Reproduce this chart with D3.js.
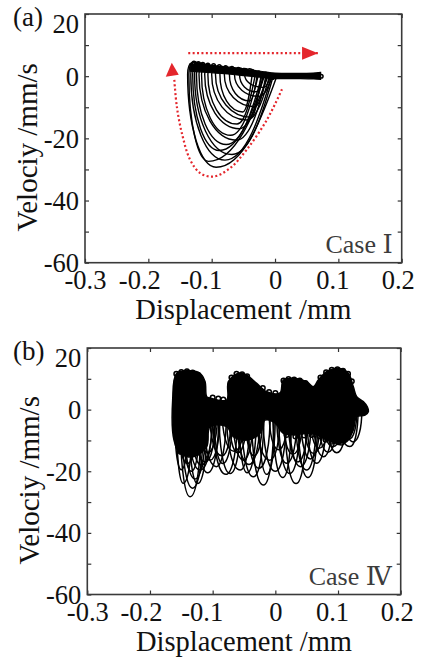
<!DOCTYPE html>
<html>
<head>
<meta charset="utf-8">
<script src="https://cdn.jsdelivr.net/npm/d3@7"></script>
<style>
  html, body { margin: 0; padding: 0; background: #fff; }
  svg { display: block; }
  svg text { font-family: "Liberation Serif", "Times New Roman", "DejaVu Serif", serif; }
</style>
</head>
<body>
<svg id="chart" width="422" height="660"></svg>
<script>
// ---------- axes ----------
const xTicks = [-0.3, -0.2, -0.1, 0, 0.1, 0.2];
const xTickLabels = ["-0.3", "-0.2", "-0.1", "0", "0.1", "0.2"];
const yTicks = [20, 0, -20, -40, -60];
const yTickLabels = ["20", "0", "-20", "-40", "-60"];
const yMinorTicks = [10, -10, -30, -50];

// ---------- (a) Case I : decaying swings (x at top-left, bottom x, bottom v, x where v returns to 0, top v) ----------
const loopLeftA   = [-0.138, -0.136, -0.133, -0.130, -0.127, -0.124, -0.120, -0.116, -0.111, -0.106, -0.100, -0.094, -0.087, -0.080, -0.072, -0.064, -0.056, -0.048];
const loopMinXA   = [-0.093, -0.105, -0.079, -0.088, -0.068, -0.077, -0.061, -0.070, -0.056, -0.060, -0.045, -0.038, -0.051, -0.032, -0.040, -0.025, -0.030, -0.018];
const loopMinVA   = [-29.3, -27.4, -27.0, -23.9, -25.2, -22.0, -20.6, -19.0, -16.9, -15.4, -14.1, -13.2, -11.5, -9.8, -8.0, -6.5, -5.0, -3.6];
const loopRightA  = [0.004, -0.010, -0.004, -0.016, -0.002, -0.020, -0.012, -0.026, -0.018, -0.031, -0.008, -0.022, -0.036, -0.014, -0.028, -0.004, -0.018, -0.006];
const loopTopA    = [4.3, 4.4, 4.1, 4.0, 3.9, 3.7, 3.6, 3.5, 3.3, 3.2, 3.0, 2.9, 2.7, 2.6, 2.4, 2.3, 2.1, 2.0];

// creeping band along v ~ 0
const bandXA     = [-0.134, -0.120, -0.100, -0.080, -0.060, -0.040, -0.020, 0.000, 0.020, 0.040, 0.060, 0.072];
const bandUpperA = [3.9, 3.6, 3.2, 2.8, 2.4, 2.0, 1.5, 1.0, 0.9, 0.9, 1.0, 1.2];
const bandLowerA = [1.6, 1.4, 1.1, 0.8, 0.4, 0.0, -0.4, -0.8, -0.8, -0.8, -0.9, -1.0];
const bumpXA = [-0.128, -0.121, -0.114, -0.106, -0.097, -0.088, -0.078, -0.068, -0.058, -0.047, -0.036, -0.026, -0.015, -0.004, 0.067, 0.073];
const bumpVA = [4.2, 4.1, 3.8, 3.6, 3.4, 3.1, 2.8, 2.5, 2.2, 1.8, 1.5, 1.1, 0.7, -0.4, 0.3, 0.0];

// trajectory direction guides (red)
const arrowTopX = [-0.137, 0.068];
const arrowTopV = [7.4, 7.4];
const arrowCurveX = [0.011, -0.013, -0.045, -0.071, -0.097, -0.118, -0.134, -0.147, -0.155, -0.159];
const arrowCurveV = [-4.2, -14.1, -23.7, -29.6, -32.3, -31.2, -26.9, -18.4, -9.8, -1.2];
const arrowCurveTip = [-0.163, 4.3];

// ---------- (b) Case IV : dense multi-centre orbit ----------
const blobXB = [-0.1638, -0.1574, -0.1362, -0.1202, -0.1122, -0.1095, -0.1042, -0.0776, -0.0750, -0.0591, -0.0457, -0.0297, -0.0138, 0.0074, 0.0127, 0.0287, 0.0500, 0.0606, 0.0685, 0.0819, 0.1004, 0.1164, 0.1244, 0.1298, 0.1403, 0.1467, 0.1483, 0.1430, 0.1298, 0.1244, 0.1138, 0.0979, 0.0819, 0.0660, 0.0500, 0.0287, 0.0127, -0.0005, -0.0165, -0.0245, -0.0457, -0.0671, -0.0776, -0.1042, -0.1095, -0.1309, -0.1521, -0.1617];
const blobVB = [3.1, 11.8, 12.6, 11.8, 9.1, 4.2, 3.8, 3.1, 9.1, 11.8, 11.2, 8.5, 5.8, 5.4, 9.6, 10.2, 9.1, 7.4, 9.6, 12.3, 13.4, 11.8, 7.4, 4.2, 2.6, 0.9, -0.7, -1.8, -2.3, -6.6, -10.4, -10.9, -9.9, -8.2, -7.7, -8.2, -7.7, -4.3, -3.4, -7.7, -9.9, -8.8, -5.5, -5.5, -12.0, -15.3, -14.2, -9.9];

const loopLeftB  = [-0.152, -0.158, -0.161, -0.140, -0.146, -0.130, -0.156, -0.115, -0.120, -0.105, -0.090, -0.078, -0.054, -0.038, -0.068, -0.085, -0.030, -0.045, 0.005, 0.015, 0.002, 0.032, 0.050, 0.060, 0.045, 0.075, 0.100, 0.012, -0.010, 0.088, -0.125, -0.100, -0.150, -0.135, -0.062, -0.020, 0.022, 0.040, 0.068, 0.110,
                    -0.162, -0.148, -0.138, -0.122, -0.098, -0.074, -0.058, -0.048, -0.026, -0.004, 0.020, 0.036, 0.055, 0.082, 0.105];
const loopMinXB  = [-0.136, -0.147, -0.150, -0.120, -0.128, -0.112, -0.140, -0.094, -0.104, -0.085, -0.072, -0.056, -0.035, -0.019, -0.051, -0.066, -0.009, -0.026, 0.023, 0.033, 0.018, 0.050, 0.066, 0.077, 0.061, 0.092, 0.119, 0.028, 0.005, 0.105, -0.108, -0.079, -0.132, -0.118, -0.042, 0.000, 0.040, 0.056, 0.084, 0.124,
                    -0.152, -0.134, -0.124, -0.108, -0.084, -0.060, -0.045, -0.034, -0.014, 0.012, 0.036, 0.052, 0.070, 0.098, 0.118];
const loopMinVB  = [-28.3, -23.9, -19.5, -19.6, -22.5, -17.0, -17.5, -18.5, -16.4, -15.0, -20.7, -19.6, -21.8, -24.5, -16.4, -13.5, -16.4, -19.0, -20.7, -24.0, -17.4, -19.6, -17.4, -15.3, -14.2, -12.0, -12.0, -14.5, -13.0, -11.5, -20.5, -21.0, -25.5, -18.0, -17.8, -20.0, -18.5, -16.0, -13.8, -10.5,
                    -14.5, -20.0, -24.0, -14.0, -17.5, -14.0, -20.5, -15.0, -21.0, -22.0, -17.0, -22.0, -12.5, -14.0, -9.5];
const loopRightB = [-0.118, -0.132, -0.138, -0.100, -0.110, -0.095, -0.125, -0.078, -0.088, -0.070, -0.055, -0.040, -0.018, -0.002, -0.035, -0.048, 0.008, -0.008, 0.040, 0.050, 0.035, 0.066, 0.082, 0.092, 0.078, 0.108, 0.132, 0.044, 0.020, 0.122, -0.090, -0.060, -0.114, -0.100, -0.024, 0.018, 0.058, 0.072, 0.100, 0.138,
                    -0.142, -0.120, -0.108, -0.092, -0.068, -0.045, -0.030, -0.020, 0.000, 0.026, 0.052, 0.068, 0.086, 0.114, 0.130];

const bumpXB = [-0.158, -0.150, -0.141, -0.132, -0.123, -0.100, -0.091, -0.083, -0.070, -0.062, -0.053, -0.045, -0.020, -0.010, 0.000, 0.013, 0.021, 0.030, 0.039, 0.048, 0.072, 0.081, 0.090, 0.099, 0.108, 0.116, 0.122, 0.100, 0.090, 0.080, 0.070, 0.058, 0.046, 0.032, 0.018];
const bumpVB = [11.6, 12.2, 12.4, 12.0, 11.2, 3.9, 3.6, 3.3, 10.4, 11.6, 11.5, 10.8, 7.0, 5.7, 5.4, 9.4, 9.9, 9.8, 9.4, 8.6, 10.4, 12.1, 12.9, 13.1, 12.6, 11.6, 9.2, -10.6, -10.4, -9.8, -8.6, -8.2, -8.4, -8.7, -8.2];

// ---------- layout ----------
const svg = d3.select("#chart");
const ink = "#111";
const red = "#e4262c";

const panels = [
  { tag: "(a)", caseText: "Case \u2160", left: 85, right: 401.7, top: 14, bottom: 262.7 },
  { tag: "(b)", caseText: "Case \u2163", left: 87.3, right: 400.7, top: 348, bottom: 594.5 }
];
const labelNudge = [0, -9, -11, 0, -6, -4];

function frame(p, idx) {
  const x = d3.scaleLinear().domain([-0.3, 0.2]).range([p.left, p.right]);
  const y = d3.scaleLinear().domain([-60, 20]).range([p.bottom, p.top]);
  const g = svg.append("g");

  const clipId = "clip" + idx;
  svg.append("clipPath").attr("id", clipId)
    .append("rect").attr("x", p.left).attr("y", p.top)
    .attr("width", p.right - p.left).attr("height", p.bottom - p.top);
  const plot = g.append("g").attr("clip-path", `url(#${clipId})`);

  // ticks (inward on all four sides)
  const axB = g.append("g").attr("transform", `translate(0,${p.bottom})`)
    .call(d3.axisBottom(x).tickValues(xTicks).tickSizeInner(-4).tickSizeOuter(0)
      .tickFormat((d, i) => xTickLabels[i]));
  axB.selectAll("text")
    .attr("y", 26).attr("dy", 0)
    .attr("dx", (d, i) => labelNudge[i]);
  g.append("g").attr("transform", `translate(0,${p.top})`)
    .call(d3.axisTop(x).tickValues(xTicks).tickSizeInner(-4).tickSizeOuter(0).tickFormat(""));

  const allY = yTicks.concat(yMinorTicks);
  const axL = g.append("g").attr("transform", `translate(${p.left},0)`)
    .call(d3.axisLeft(y).tickValues(allY).tickSizeInner(-4).tickSizeOuter(0)
      .tickFormat(d => { const k = yTicks.indexOf(d); return k >= 0 ? yTickLabels[k] : ""; }));
  axL.selectAll("text")
    .attr("x", -6)
    .attr("dy", d => d === 20 ? "0.68em" : "0.34em");
  g.append("g").attr("transform", `translate(${p.right},0)`)
    .call(d3.axisRight(y).tickValues(allY).tickSizeInner(-4).tickSizeOuter(0).tickFormat(""));

  g.selectAll(".domain").remove();
  g.selectAll("g").attr("font-family", null);
  g.selectAll(".tick line").attr("stroke", "#333").attr("stroke-width", 1.2);
  g.selectAll(".tick text").attr("fill", ink).attr("font-size", 26.5);

  // frame box
  g.append("rect").attr("x", p.left).attr("y", p.top)
    .attr("width", p.right - p.left).attr("height", p.bottom - p.top)
    .attr("fill", "none").attr("stroke", "#3a3a3a").attr("stroke-width", 1.6);

  // titles
  g.append("text").attr("x", 13).attr("y", p.top + 12)
    .attr("font-size", 27).attr("fill", ink).text(p.tag);
  g.append("text")
    .attr("transform", `translate(${p.left - 48},${(p.top + p.bottom) / 2 + 9}) rotate(-90)`)
    .attr("text-anchor", "middle")
    .attr("font-size", 29).attr("fill", ink)
    .text("Velociy /mm/s");
  g.append("text").attr("x", (p.left + p.right) / 2).attr("y", p.bottom + 56)
    .attr("text-anchor", "middle")
    .attr("font-size", 28.5).attr("fill", ink)
    .text("Displacement /mm");
  g.append("text").attr("x", p.right - 9).attr("y", p.bottom - 10)
    .attr("text-anchor", "end")
    .attr("font-size", 26).attr("fill", "#3c3c3c")
    .text(p.caseText);

  return { x, y, plot };
}

// ---------- panel (a) ----------
(function () {
  const { x, y, plot } = frame(panels[0], 0);
  const line = d3.line().x(d => x(d[0])).y(d => y(d[1]));

  // creeping band
  const band = bandXA.map((bx, i) => [bx, bandUpperA[i], bandLowerA[i]]);
  plot.append("path")
    .attr("d", d3.area().x(d => x(d[0])).y0(d => y(d[2])).y1(d => y(d[1])).curve(d3.curveMonotoneX)(band))
    .attr("fill", "#000").attr("stroke", "#000").attr("stroke-width", 1.2);

  // swing loops
  loopLeftA.forEach((xs, i) => {
    const xm = loopMinXA[i], vm = loopMinVA[i], xe = loopRightA[i], vt = loopTopA[i];
    const p = d3.path();
    p.moveTo(x(xe), y(0.6));
    p.bezierCurveTo(x(xe - 0.25 * (xe - xm)), y(0.45 * vm), x(xm + 0.45 * (xe - xm)), y(vm), x(xm), y(vm));
    p.bezierCurveTo(x(xm - 0.55 * (xm - xs)), y(vm), x(xs), y(0.55 * vm), x(xs), y(0.5));
    p.bezierCurveTo(x(xs), y(vt + 0.9), x(xs + 0.011), y(vt + 0.9), x(xs + 0.018), y(vt - 1.0));
    plot.append("path").attr("d", p.toString())
      .attr("fill", "none").attr("stroke", "#000").attr("stroke-width", 1.4);
  });

  // small orbit bumps along the band
  plot.selectAll("circle.bump").data(bumpXA).enter().append("circle")
    .attr("cx", d => x(d)).attr("cy", (d, i) => y(bumpVA[i]))
    .attr("r", 1.8).attr("fill", "none").attr("stroke", "#000").attr("stroke-width", 1.5);

  // direction guides
  plot.append("path").attr("d", line(arrowTopX.map((ax, i) => [ax, arrowTopV[i]])))
    .attr("stroke", red).attr("stroke-width", 2.2).attr("stroke-dasharray", "2,2.4").attr("fill", "none");
  const tipX = x(arrowTopX[1]), tipY = y(arrowTopV[1]);
  plot.append("path").attr("d", `M${tipX},${tipY} L${tipX - 16},${tipY - 6.5} L${tipX - 16},${tipY + 6.5} Z`)
    .attr("fill", red);

  const curvePts = arrowCurveX.map((ax, i) => [ax, arrowCurveV[i]]);
  plot.append("path").attr("d", d3.line().x(d => x(d[0])).y(d => y(d[1])).curve(d3.curveCatmullRom)(curvePts))
    .attr("stroke", red).attr("stroke-width", 2.2).attr("stroke-dasharray", "2,2.4").attr("fill", "none");
  const tx = x(arrowCurveTip[0]), ty = y(arrowCurveTip[1]);
  plot.append("path").attr("d", `M${tx},${ty} L${tx - 6},${ty + 14} L${tx + 7},${ty + 12} Z`)
    .attr("fill", red);
})();

// ---------- panel (b) ----------
(function () {
  const { x, y, plot } = frame(panels[1], 1);

  loopLeftB.forEach((xs, i) => {
    const xm = loopMinXB[i], vm = loopMinVB[i], xe = loopRightB[i];
    const p = d3.path();
    p.moveTo(x(xs), y(0));
    p.bezierCurveTo(x(xs), y(0.62 * vm), x(xm - 0.55 * (xm - xs)), y(vm), x(xm), y(vm));
    p.bezierCurveTo(x(xm + 0.55 * (xe - xm)), y(vm), x(xe), y(0.62 * vm), x(xe), y(0));
    plot.append("path").attr("d", p.toString())
      .attr("fill", "none").attr("stroke", "#000").attr("stroke-width", 1.5);
  });

  const blob = blobXB.map((bx, i) => [bx, blobVB[i]]);
  plot.append("path")
    .attr("d", d3.line().x(d => x(d[0])).y(d => y(d[1])).curve(d3.curveCatmullRomClosed)(blob))
    .attr("fill", "#000").attr("stroke", "#000").attr("stroke-width", 1.5);

  plot.selectAll("circle.bump").data(bumpXB).enter().append("circle")
    .attr("cx", d => x(d)).attr("cy", (d, i) => y(bumpVB[i]))
    .attr("r", 2.3).attr("fill", "none").attr("stroke", "#000").attr("stroke-width", 1.5);
})();
</script>
</body>
</html>
